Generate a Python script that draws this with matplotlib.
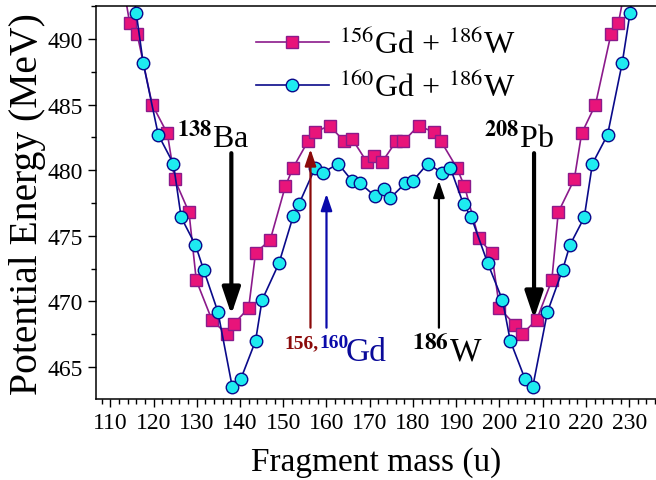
import matplotlib
matplotlib.use('Agg')
import matplotlib.pyplot as plt
from matplotlib.ticker import MultipleLocator

plt.rcParams['font.family'] = ['Liberation Serif', 'DejaVu Serif']
plt.rcParams['mathtext.fontset'] = 'stix'

# 156Gd + 186W (squares)
gd156_mass = [112.8, 114.5, 116.2, 119.7, 123.2, 124.9, 128.2, 129.9, 133.5, 136.9,
              138.6, 142.0, 143.6, 147.0, 150.5, 152.3, 155.7, 157.3, 160.7, 164.1,
              165.9, 169.4, 171.1, 172.8, 176.1, 177.8, 181.3, 184.8, 186.5, 190.1,
              191.9, 195.2, 198.2, 200.0, 203.6, 205.2, 208.6, 212.1, 213.6, 217.3,
              219.0, 222.2, 225.8, 227.5, 229.4]
gd156_pe = [494.5, 491.2, 490.4, 485.0, 482.8, 479.3, 476.8, 471.6, 468.6, 467.5,
            468.3, 469.5, 473.7, 474.7, 478.8, 480.2, 482.2, 482.9, 483.4, 482.2,
            482.4, 480.6, 481.1, 480.6, 482.2, 482.2, 483.4, 482.9, 482.2, 480.2,
            478.8, 474.8, 473.7, 469.5, 468.2, 467.5, 468.6, 471.6, 476.8, 479.3,
            482.8, 485.0, 490.4, 491.2, 494.5]

# 160Gd + 186W (circles)
gd160_mass = [114.8, 116.0, 117.6, 121.1, 124.6, 126.4, 129.7, 131.6, 134.9, 138.2,
              140.2, 143.6, 145.1, 149.0, 152.3, 153.6, 157.4, 159.1, 162.7, 165.9,
              167.8, 171.3, 173.2, 174.8, 178.2, 180.0, 183.4, 186.8, 188.6, 191.7,
              193.5, 197.3, 200.7, 202.5, 205.9, 207.7, 211.1, 214.6, 216.3, 219.6,
              221.5, 225.0, 228.4, 230.2, 231.4]
gd160_pe = [495.0, 492.0, 488.2, 482.7, 480.5, 476.4, 474.3, 472.4, 469.2, 463.5,
            464.1, 467.0, 470.1, 472.9, 476.5, 477.4, 480.2, 479.8, 480.5, 479.2,
            479.0, 478.0, 478.6, 477.9, 479.0, 479.2, 480.5, 479.8, 480.2, 477.4,
            476.4, 472.9, 470.1, 467.0, 464.1, 463.5, 469.2, 472.4, 474.3, 476.4,
            480.5, 482.7, 488.2, 492.0, 495.0]

fig = plt.figure(figsize=(6.56, 4.81), dpi=100)
ax = fig.add_axes([0.147, 0.168, 0.853, 0.817])

ax.plot(gd156_mass, gd156_pe, '-s', color='#8B1A8B', lw=1.2, ms=8,
        mfc='#E8147A', mec='#8B1A8B', mew=1.0,
        label=r'$^{156}$Gd + $^{186}$W')
ax.plot(gd160_mass, gd160_pe, '-o', color='#0A0A8A', lw=1.2, ms=9,
        mfc='#1EEBF0', mec='#0A0A8A', mew=1.0,
        label=r'$^{160}$Gd + $^{186}$W')

# thick black arrows (down)
big = dict(arrowstyle='-|>,head_length=0.65,head_width=0.22', color='black',
           lw=3, mutation_scale=25, shrinkA=0, shrinkB=0)
ax.annotate('', xy=(138, 469.0), xytext=(138, 481.3), arrowprops=big)
ax.annotate('', xy=(208, 468.7), xytext=(208, 481.3), arrowprops=big)

# thin arrows (up)
def thin(c):
    return dict(arrowstyle='-|>,head_length=0.5,head_width=0.17', color=c,
                lw=1.6, mutation_scale=20, shrinkA=0, shrinkB=0)
ax.annotate('', xy=(156.3, 481.6), xytext=(156.3, 468.0), arrowprops=thin('#8B0A0A'))
ax.annotate('', xy=(160.0, 478.2), xytext=(160.0, 468.0), arrowprops=thin('#0A0AAA'))
ax.annotate('', xy=(186.0, 479.2), xytext=(186.0, 468.0), arrowprops=thin('black'))

ax.text(142.2, 481.8, r'$^{\mathbf{138}}$Ba', fontsize=23, ha='right', va='baseline')
ax.text(212.7, 481.8, r'$^{\mathbf{208}}$Pb', fontsize=23, ha='right', va='baseline')
ax.text(150.2, 466.5, '156,', fontsize=14, fontweight='bold', color='#8B0A0A',
        ha='left', va='baseline')
ax.text(158.3, 466.5, '160', fontsize=14, fontweight='bold', color='#0A0AAA',
        ha='left', va='baseline')
ax.text(164.4, 465.5, 'Gd', fontsize=24, color='#0A0A99', ha='left', va='baseline')
ax.text(179.7, 465.5, r'$^{\mathbf{186}}$W', fontsize=24, ha='left', va='baseline')

ax.set_xlim(106.8, 236.2)
ax.set_ylim(462.55, 492.5)
ax.xaxis.set_major_locator(MultipleLocator(10))
ax.xaxis.set_minor_locator(MultipleLocator(2))
ax.yaxis.set_major_locator(MultipleLocator(5))
ax.yaxis.set_minor_locator(MultipleLocator(2.5))
ax.tick_params(which='both', direction='out', top=False, right=False,
               labelsize=17, width=1.0)
ax.tick_params(which='major', length=6)
ax.tick_params(which='minor', length=3.5)
ax.spines['right'].set_visible(False)
for s in ['left', 'bottom', 'top']:
    ax.spines[s].set_linewidth(1.1)

ax.set_xlabel('Fragment mass (u)', fontsize=24, labelpad=9)
ax.set_ylabel('Potential Energy (MeV)', fontsize=28.5, labelpad=1)

ax.legend(loc='upper left', bbox_to_anchor=(0.233, 1.015), frameon=False,
          fontsize=23, handlelength=2.3, handletextpad=0.3, labelspacing=0.35)

fig.savefig('out.png', dpi=100)
